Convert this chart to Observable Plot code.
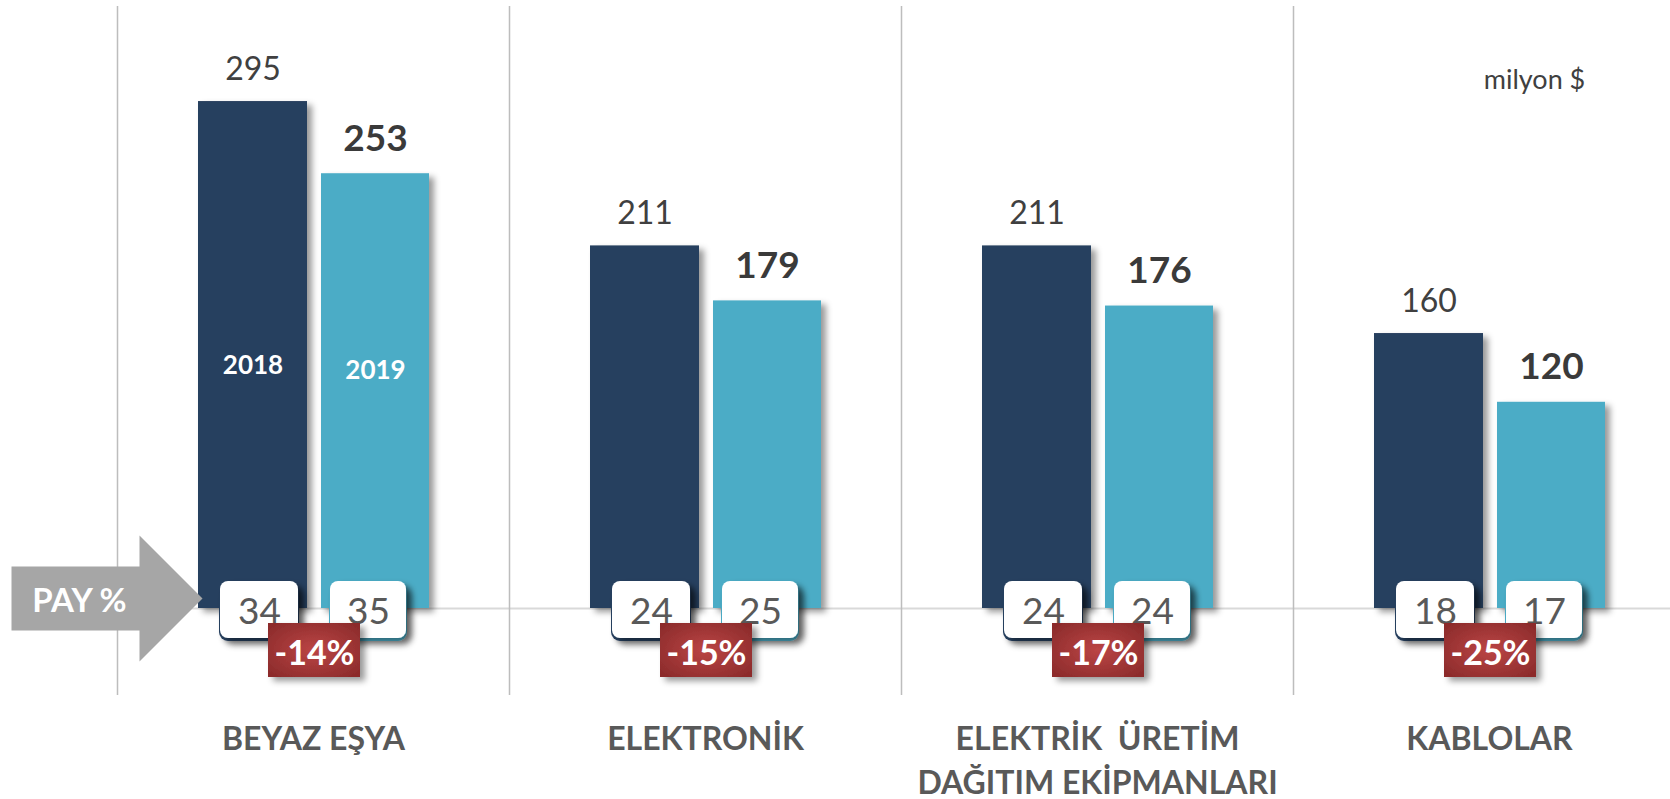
<!DOCTYPE html>
<html>
<head>
<meta charset="utf-8">
<script src="https://cdn.jsdelivr.net/npm/d3@7"></script>
<script src="https://cdn.jsdelivr.net/npm/@observablehq/plot@0.6"></script>
<style>
  html, body { margin: 0; padding: 0; background: #ffffff; }
  #chart svg { display: block; }
  #chart text { white-space: pre; }
</style>
</head>
<body>
<div id="chart"></div>
<script>
// ---- Data ----
const categories = ["BEYAZ EŞYA", "ELEKTRONİK", "ELEKTRİK  ÜRETİM\nDAĞITIM EKİPMANLARI", "KABLOLAR"];
const years = ["2018", "2019"];
const values2018 = [295, 211, 211, 160];
const values2019 = [253, 179, 176, 120];
const share2018 = [34, 24, 24, 18];
const share2019 = [35, 25, 24, 17];
const changes = ["-14%", "-15%", "-17%", "-25%"];
const unitLabel = "milyon $";
const shareLabel = "PAY %";

const rows = categories.map((c, i) => ({
  cat: c, v18: values2018[i], v19: values2019[i],
  p18: share2018[i], p19: share2019[i], ch: changes[i]
}));

// ---- Style ----
const navy = "#263f5f";
const teal = "#4bacc6";
const font = "Lato, 'Open Sans', sans-serif";
const half = 196; // half band width (px)

// block-arrow symbol for the "PAY %" pointer (relative to the first band start at the baseline)
const arrowSymbol = {
  draw(ctx) {
    ctx.moveTo(-106, -42);
    ctx.lineTo(22, -42);
    ctx.lineTo(22, -73);
    ctx.lineTo(85, -10);
    ctx.lineTo(22, 53);
    ctx.lineTo(22, 22);
    ctx.lineTo(-106, 22);
    ctx.closePath();
  }
};

const plot = Plot.plot({
  width: 1670,
  height: 799,
  marginLeft: 117,
  marginRight: 0,
  marginTop: 0,
  marginBottom: 191,
  style: { fontFamily: font, background: "#ffffff", overflow: "visible" },
  x: { domain: categories, range: [117, 1685], padding: 0, axis: null },
  y: { domain: [0, 353.8], axis: null },
  marks: [
    // baseline
    Plot.ruleY([0], { stroke: "#d9d9d9", strokeWidth: 2 }),
    // category dividers
    Plot.ruleX(categories, { x: d => d, dx: -half, insetTop: 6, insetBottom: -87, stroke: "#bdbdbd", strokeWidth: 1.5 }),
    // bars
    Plot.barY(rows, { x: "cat", y: "v18", fill: navy, insetLeft: 81, insetRight: 202 }),
    Plot.barY(rows, { x: "cat", y: "v19", fill: teal, insetLeft: 204, insetRight: 80 }),
    // value labels
    Plot.text(rows, { x: "cat", y: "v18", text: d => d.v18, dx: -60.5, dy: -22, lineAnchor: "bottom",
      fontSize: 32, fill: "#404040" }),
    Plot.text(rows, { x: "cat", y: "v19", text: d => d.v19, dx: 62, dy: -23, lineAnchor: "bottom",
      fontSize: 37, fontWeight: "bold", fill: "#3a3a3a" }),
    // year labels inside first pair
    Plot.text(rows.slice(0, 1), { x: "cat", y: () => 0, text: () => years[0], dx: -60.5, dy: -235, lineAnchor: "bottom",
      fontSize: 26, fontWeight: "bold", fill: "#ffffff" }),
    Plot.text(rows.slice(0, 1), { x: "cat", y: () => 0, text: () => years[1], dx: 62, dy: -230, lineAnchor: "bottom",
      fontSize: 26, fontWeight: "bold", fill: "#ffffff" }),
    // share boxes: coloured underlay
    Plot.barY(rows, { x: "cat", y1: 0, y2: 0, fill: navy, insetLeft: 102, insetRight: 210, insetTop: -27, insetBottom: -30, rx: 9, dy: 3 }),
    Plot.barY(rows, { x: "cat", y1: 0, y2: 0, fill: teal, insetLeft: 212, insetRight: 102, insetTop: -27, insetBottom: -30, rx: 9, dy: 3 }),
    // share boxes: white
    Plot.barY(rows, { x: "cat", y1: 0, y2: 0, fill: "#ffffff", insetLeft: 103, insetRight: 211, insetTop: -27, insetBottom: -30, rx: 8 }),
    Plot.barY(rows, { x: "cat", y1: 0, y2: 0, fill: "#ffffff", insetLeft: 213, insetRight: 103, insetTop: -27, insetBottom: -30, rx: 8 }),
    Plot.text(rows, { x: "cat", y: () => 0, text: d => d.p18, dx: -54, dy: 15, lineAnchor: "bottom", fontSize: 37, fill: "#595959" }),
    Plot.text(rows, { x: "cat", y: () => 0, text: d => d.p19, dx: 55, dy: 15, lineAnchor: "bottom", fontSize: 37, fill: "#595959" }),
    // change boxes
    Plot.barY(rows, { x: "cat", y1: 0, y2: 0, fill: "url(#redGrad)", insetLeft: 151, insetRight: 149, insetTop: 15, insetBottom: -69 }),
    Plot.text(rows, { x: "cat", y: () => 0, text: "ch", dx: 1, dy: 56, lineAnchor: "bottom", fontSize: 34, fontWeight: "bold", fill: "#ffffff" }),
    // category labels
    Plot.text(categories, { x: d => d, text: d => d, frameAnchor: "bottom", dy: 111, lineAnchor: "top", lineHeight: 1.36,
      fontSize: 32, fontWeight: "bold", fill: "#595959" }),
    // unit label
    Plot.text([unitLabel], { x: () => categories[3], text: d => d, frameAnchor: "top", dy: 88, dx: 45, lineAnchor: "bottom",
      fontSize: 27, fill: "#404040" }),
    // PAY % arrow
    Plot.dot([shareLabel], { x: () => categories[0], y: () => 0, dx: -half, symbol: arrowSymbol, r: 10, fill: "#a6a6a6", stroke: "none" }),
    Plot.text([shareLabel], { x: () => categories[0], y: () => 0, text: d => d, dx: -half - 38, dy: 3, lineAnchor: "bottom",
      fontSize: 33, fontWeight: "bold", fill: "#ffffff" })
  ]
});

// defs: shadow filter and red gradient
const svg = d3.select(plot);
const defs = svg.insert("defs", ":first-child");
const f = defs.append("filter").attr("id", "shadow").attr("filterUnits", "userSpaceOnUse")
  .attr("x", 0).attr("y", 0).attr("width", 1670).attr("height", 799);
f.append("feDropShadow").attr("dx", 5).attr("dy", 4).attr("stdDeviation", 3)
  .attr("flood-color", "#000").attr("flood-opacity", 0.4);
const g = defs.append("radialGradient").attr("id", "redGrad").attr("cx", "50%").attr("cy", "50%").attr("r", "65%");
g.append("stop").attr("offset", "0%").attr("stop-color", "#bb4545");
g.append("stop").attr("offset", "100%").attr("stop-color", "#8c2b2b");
svg.selectAll('g[aria-label="bar"]').attr("filter", "url(#shadow)");

document.getElementById("chart").appendChild(plot);
</script>
</body>
</html>
